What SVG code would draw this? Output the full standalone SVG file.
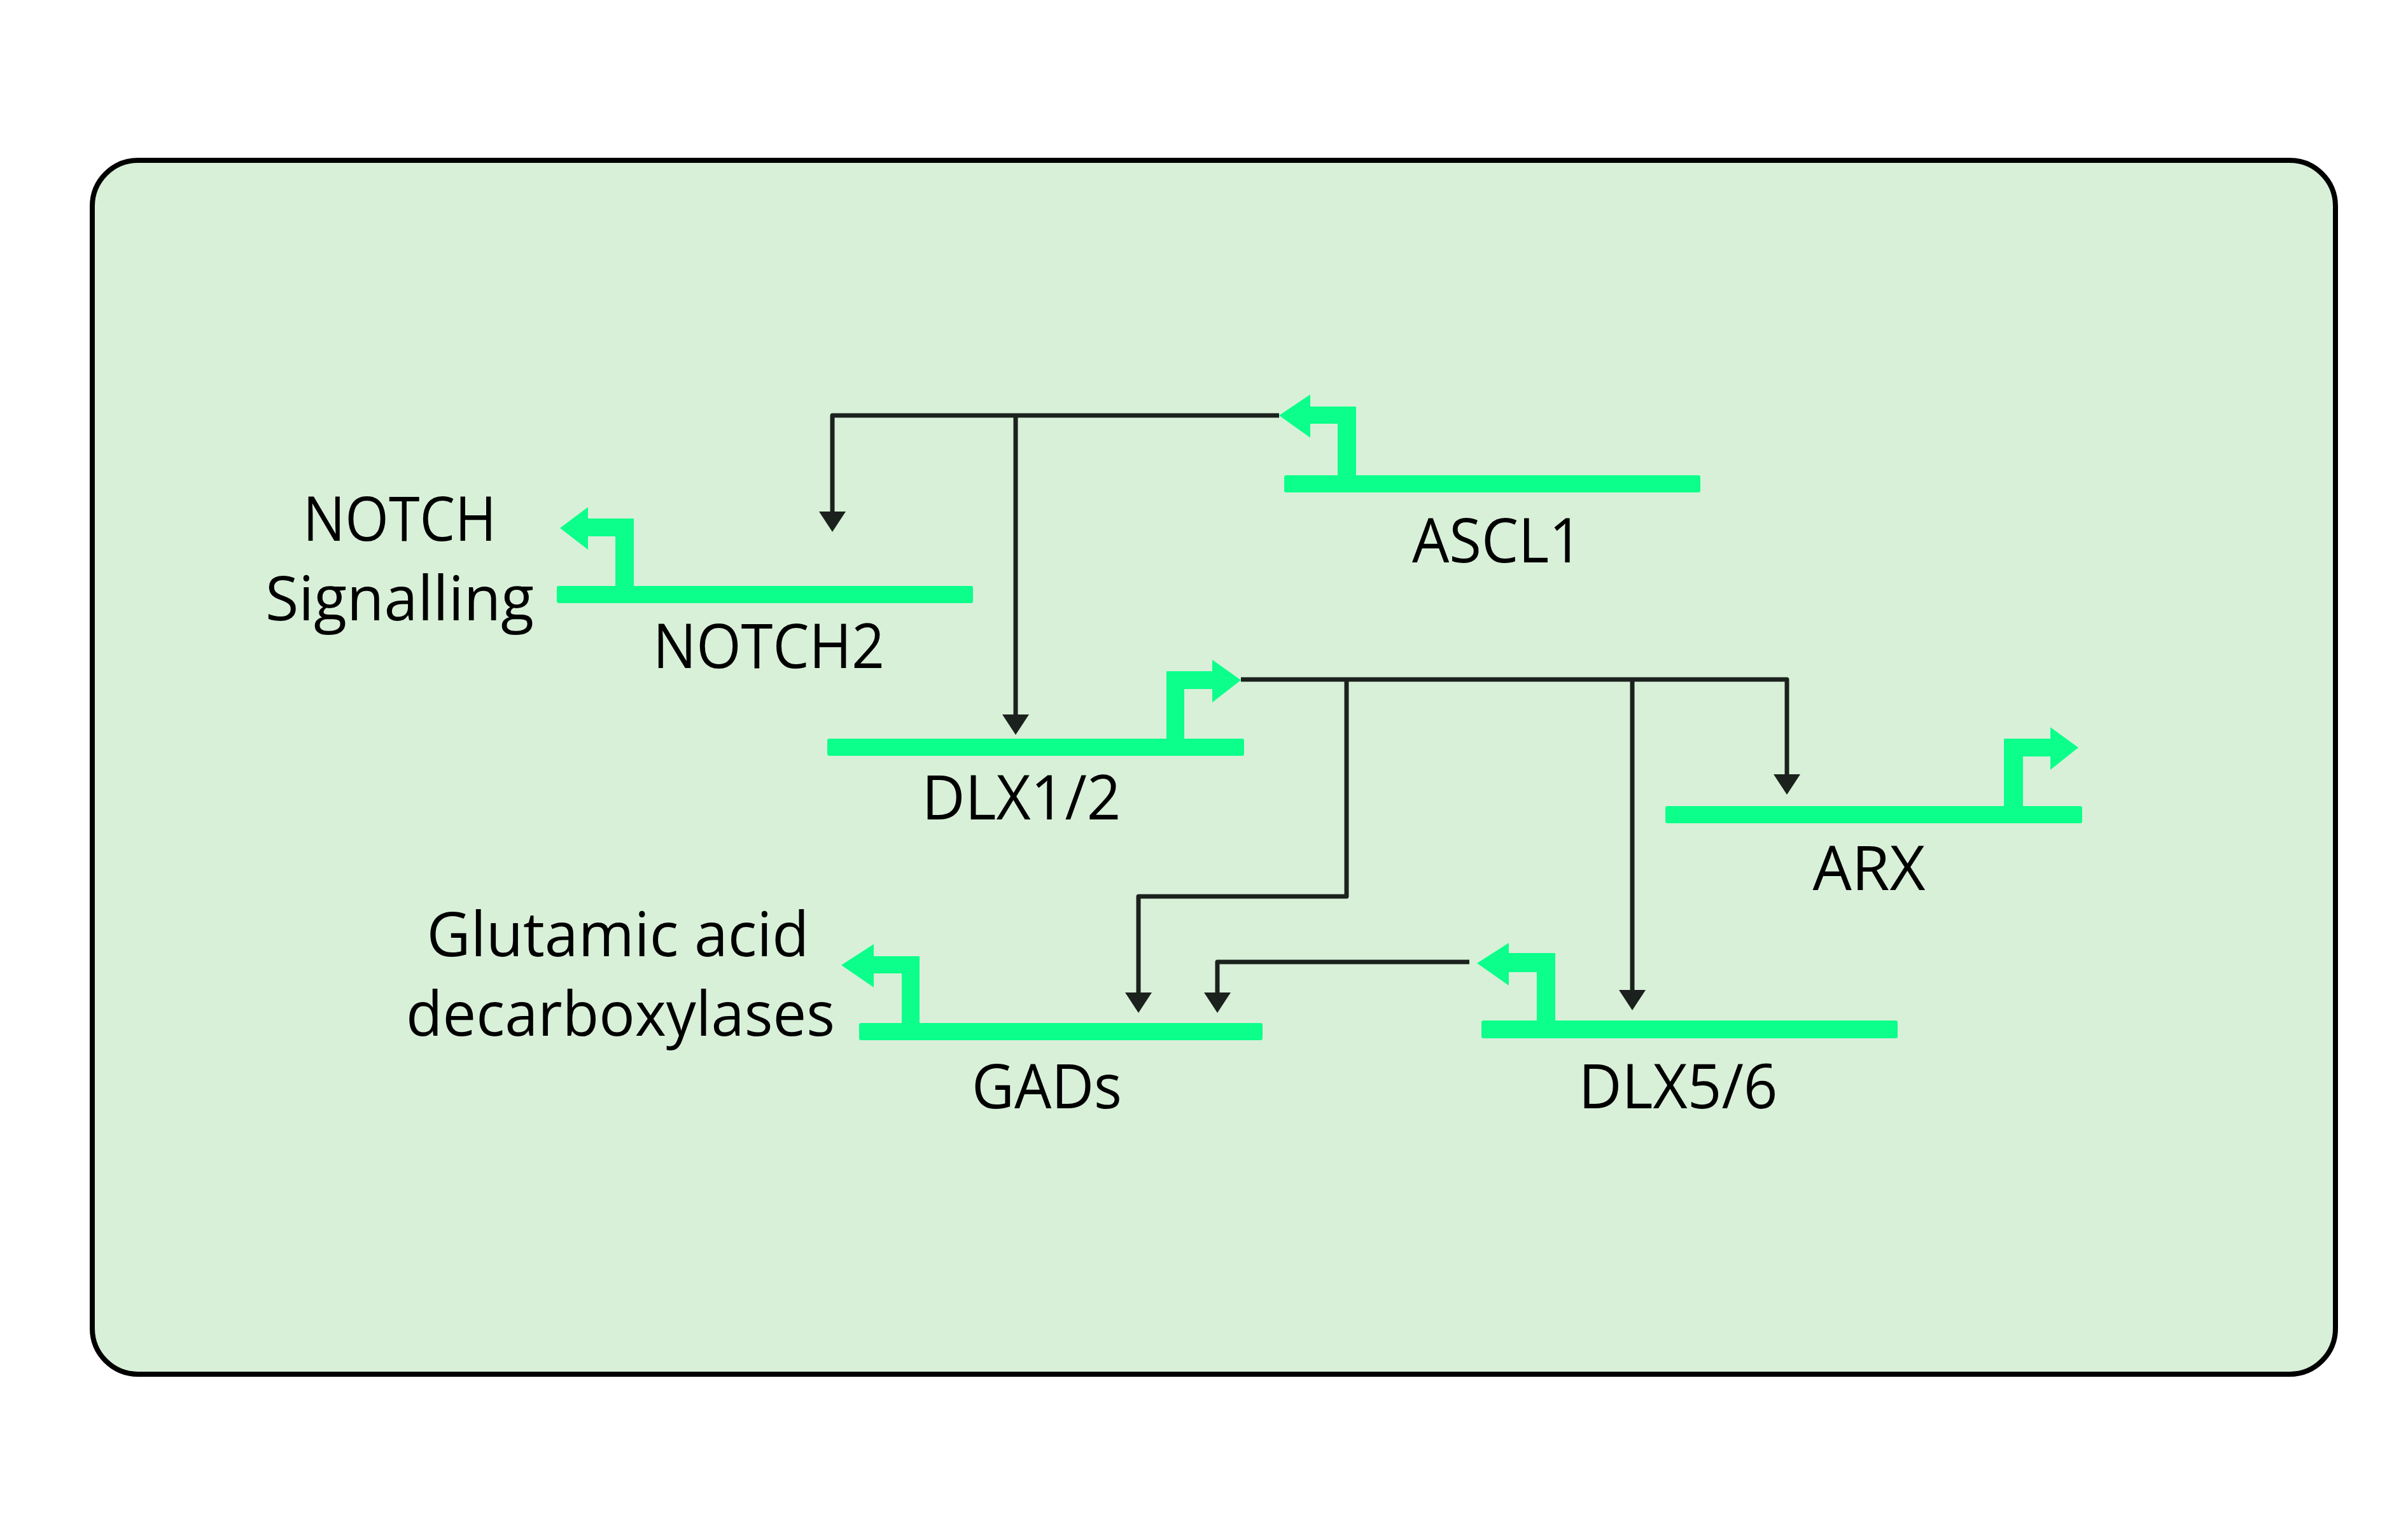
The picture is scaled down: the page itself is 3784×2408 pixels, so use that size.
<svg xmlns="http://www.w3.org/2000/svg" width="3784" height="2408" viewBox="0 0 3784 2408">
<defs>
<style>
.gene{fill:#0bff8a;}
.lbl{font-family:"Open Sans","Noto Sans","Liberation Sans",sans-serif;font-size:97px;fill:#000;text-anchor:middle;}
.con{fill:none;stroke:#1b211d;stroke-width:7;stroke-linejoin:round;marker-end:url(#ah);}
</style>
<marker id="ah" viewBox="0 0 32 42" refX="0" refY="21" markerWidth="32" markerHeight="42" markerUnits="userSpaceOnUse" orient="auto">
<path d="M0,0 L32,21 L0,42 Z" fill="#1b211d"/>
</marker>
</defs>
<rect width="3784" height="2408" fill="#ffffff"/>
<rect x="145" y="252" width="3525" height="1908" rx="72" ry="72" fill="#d8f0d8" stroke="#000" stroke-width="8"/>

<g id="connectors">
<path class="con" d="M2010,653 H1308 V804"/>
<path class="con" d="M1596,653 V1123"/>
<path class="con" d="M1950,1068 H2808 V1217"/>
<path class="con" d="M2116,1068 V1409 H1789 V1560"/>
<path class="con" d="M2565,1068 V1556"/>
<path class="con" d="M2309,1512 H1913 V1560"/>
</g>

<g id="ASCL1">
<rect class="gene" x="2018" y="747" width="654" height="27" rx="3"/>
<polygon class="gene" points="2131,748 2131,639 2059,639 2059,620 2010,653 2059,688 2059,666 2102,666 2102,748"/>
<text class="lbl" x="2353" y="884" textLength="268" lengthAdjust="spacingAndGlyphs">ASCL1</text>
</g>

<g id="NOTCH2">
<rect class="gene" x="875" y="921" width="654" height="27" rx="3"/>
<polygon class="gene" points="996,922 996,815 924,815 924,797 880,830 924,864 924,843 967,843 967,922"/>
<text class="lbl" x="1208" y="1050" textLength="364" lengthAdjust="spacingAndGlyphs">NOTCH2</text>
</g>

<g id="NOTCH-signalling">
<text class="lbl" x="628" y="850" textLength="304" lengthAdjust="spacingAndGlyphs">NOTCH</text>
<text class="lbl" x="628" y="975" textLength="422" lengthAdjust="spacingAndGlyphs">Signalling</text>
</g>

<g id="DLX1-2">
<rect class="gene" x="1300" y="1161" width="655" height="27" rx="3"/>
<polygon class="gene" points="1833,1162 1833,1055 1905,1055 1905,1037 1950,1069 1905,1104 1905,1083 1861,1083 1861,1162"/>
<text class="lbl" x="1605" y="1288" textLength="313" lengthAdjust="spacingAndGlyphs">DLX1/2</text>
</g>

<g id="ARX">
<rect class="gene" x="2617" y="1267" width="655" height="27" rx="3"/>
<polygon class="gene" points="3149,1268 3149,1161 3222,1161 3222,1143 3266,1175 3222,1210 3222,1189 3179,1189 3179,1268"/>
<text class="lbl" x="2937" y="1399" textLength="177" lengthAdjust="spacingAndGlyphs">ARX</text>
</g>

<g id="GADs">
<rect class="gene" x="1350" y="1608" width="634" height="27" rx="3"/>
<polygon class="gene" points="1445,1609 1445,1503 1373,1503 1373,1484 1322,1517 1373,1552 1373,1530 1417,1530 1417,1609"/>
<text class="lbl" x="1645" y="1742" textLength="236" lengthAdjust="spacingAndGlyphs">GADs</text>
</g>

<g id="glutamic-acid-decarboxylases">
<text class="lbl" x="971" y="1503" textLength="601" lengthAdjust="spacingAndGlyphs">Glutamic acid</text>
<text class="lbl" x="975" y="1628" textLength="674" lengthAdjust="spacingAndGlyphs">decarboxylases</text>
</g>

<g id="DLX5-6">
<rect class="gene" x="2328" y="1604" width="654" height="28" rx="3"/>
<polygon class="gene" points="2444,1605 2444,1498 2371,1498 2371,1482 2321,1514 2371,1549 2371,1528 2415,1528 2415,1605"/>
<text class="lbl" x="2637" y="1742" textLength="313" lengthAdjust="spacingAndGlyphs">DLX5/6</text>
</g>
</svg>
